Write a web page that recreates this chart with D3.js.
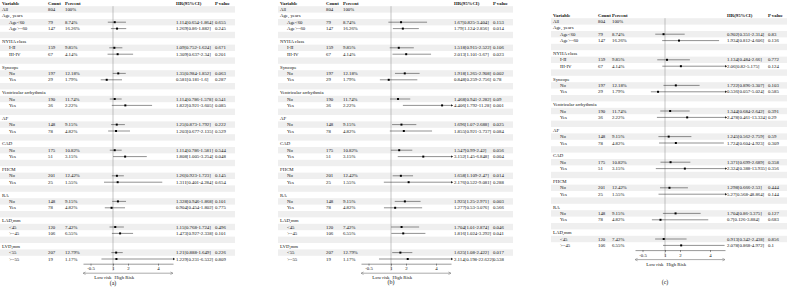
<!DOCTYPE html>
<html lang="en">
<head>
<meta charset="UTF-8">
<title>Forest plots</title>
<script src="https://d3js.org/d3.v7.min.js"></script>
<style>
    body { margin: 0; background: #fff; }
    svg { display: block; }
    text { font-family: "Liberation Serif", "Times New Roman", serif; fill: #111; }
</style>
</head>
<body>
<script>
    const width = 788;
    const height = 288;

    // table content
    const groupNames = ["Age, years", "NYHA class", "Syncope", "Ventricular arrhythmia", "AF",
                        "CAD", "FHCM", "RA", "LAD,mm", "LVD,mm"];
    const subNames = ["Age<60", "Age>=60", "I-II", "III-IV", "No", "Yes", "No", "Yes", "No", "Yes",
                      "No", "Yes", "No", "Yes", "No", "Yes", "<45", ">=45", "<55", ">=55"];
    const counts = [79, 147, 159, 67, 197, 29, 190, 36, 148, 78, 175, 51, 201, 25, 148, 78, 120, 106, 207, 19];
    const percents = ["8.74%", "16.26%", "9.85%", "4.14%", "12.18%", "1.79%", "11.74%", "2.22%", "9.15%", "4.82%",
                      "10.82%", "3.15%", "12.42%", "1.55%", "9.15%", "4.82%", "7.42%", "6.55%", "12.79%", "1.17%"];
    const allCount = 804, allPercent = "100%";
    const tickValues = [-0.5, 1, 2, 4];

    // panel (a)
    const hrA = [1.114, 1.269, 1.09, 1.309, 1.35, 0.581, 1.114, 1.822, 1.25, 1.203,
                 1.114, 1.808, 1.26, 1.311, 1.328, 0.904, 1.15, 1.473, 1.21, 1.229];
    const loA = [0.654, 0.86, 0.752, 0.637, 0.984, 0.181, 0.786, 0.921, 0.873, 0.677,
                 0.786, 1.005, 0.923, 0.401, 0.946, 0.454, 0.768, 0.927, 0.888, 0.231];
    const hiA = [1.864, 1.882, 1.624, 2.34, 1.852, 1.6, 1.578, 3.605, 1.792, 2.135,
                 1.581, 3.254, 1.723, 4.284, 1.868, 1.802, 1.724, 2.338, 1.649, 6.532];
    const pA = ["0.655", "0.245", "0.671", "0.201", "0.063", "0.287", "0.541", "0.085", "0.222", "0.529",
                "0.544", "0.048", "0.145", "0.654", "0.101", "0.775", "0.496", "0.101", "0.226", "0.809"];

    // panel (b)
    const hrB = [1.67, 1.79, 1.518, 2.013, 1.918, 0.848, 1.468, 4.406, 1.696, 1.855,
                 1.547, 3.152, 1.658, 2.176, 1.925, 1.277, 1.704, 1.816, 1.625, 2.114];
    const loB = [0.825, 1.124, 0.915, 1.101, 1.265, 0.259, 0.941, 1.792, 1.07, 0.921,
                 0.99, 1.45, 1.109, 0.522, 1.25, 0.53, 1.01, 1.024, 1.08, 0.198];
    const hiB = [3.404, 2.856, 2.522, 3.67, 2.908, 2.756, 2.282, 11.28, 2.688, 3.737,
                 2.42, 6.848, 2.47, 9.081, 2.971, 3.076, 2.874, 3.292, 2.422, 22.622];
    const pB = ["0.153", "0.014", "0.106", "0.023", "0.002", "0.78", "0.09", "0.001", "0.025", "0.084",
                "0.056", "0.004", "0.014", "0.288", "0.003", "0.566", "0.046", "0.041", "0.017", "0.538"];

    // panel (c) - no LVD rows
    const hrC = [0.902, 1.934, 1.134, 2.06, 1.722, 0.536, 1.344, 2.478, 1.245, 1.724,
                 1.371, 2.324, 1.298, 5.27, 1.704, 0.7, 0.913, 2.078];
    const loC = [0.351, 0.812, 0.484, 0.82, 0.896, 0.057, 0.684, 0.461, 0.562, 0.604,
                 0.699, 0.388, 0.666, 0.568, 0.86, 0.126, 0.342, 0.868];
    const hiC = [2.314, 4.606, 2.66, 5.175, 3.307, 5.024, 2.642, 13.324, 2.759, 4.923,
                 2.689, 13.935, 2.53, 48.864, 3.375, 3.884, 2.438, 4.972];
    const pC = ["0.83", "0.136", "0.772", "0.124", "0.103", "0.585", "0.391", "0.29", "0.59", "0.309",
                "0.358", "0.356", "0.444", "0.144", "0.127", "0.683", "0.856", "0.1"];

    const svg = d3.select("body").append("svg")
        .attr("width", width).attr("height", height);

    const fs = 4.8;
    const pitch = 6.4;

    const panels = [
        {label: "(a)", hr: hrA, lo: loA, hi: hiA, p: pA, nGroups: 10,
         varX: 2, subX: 9, countX: 48, pctX: 65, hrX: 176, pX: 215, refX: 113, headY: 3,
         bandX0: 0, bandX1: 235, labelY: 283},
        {label: "(b)", hr: hrB, lo: loB, hi: hiB, p: pB, nGroups: 10,
         varX: 280, subX: 287, countX: 326, pctX: 343, hrX: 454, pX: 493, refX: 391, headY: 3,
         bandX0: 278, bandX1: 513, labelY: 282},
        {label: "(c)", hr: hrC, lo: loC, hi: hiC, p: pC, nGroups: 9,
         varX: 553, subX: 560, countX: 598, pctX: 612, hrX: 727, pX: 768, refX: 665, headY: 15,
         bandX0: 551, bandX1: 787, labelY: 282}
    ];

    panels.forEach(drawPanel);

    function buildRows(pn) {
        const rows = [{kind: "all"}];
        for (let g = 0; g < pn.nGroups; g++) {
            rows.push({kind: "group", label: groupNames[g]});
            for (let k = 0; k < 2; k++) {
                const i = g * 2 + k;
                rows.push({kind: "sub", label: subNames[i], count: counts[i], pct: percents[i],
                           hr: pn.hr[i], lo: pn.lo[i], hi: pn.hi[i], p: pn.p[i]});
            }
            if (g < pn.nGroups - 1) rows.push({kind: "blank"});
        }
        return rows;
    }

    function drawPanel(pn) {
        const rows = buildRows(pn);
        const g = svg.append("g").attr("class", "panel");
        const y = d3.scaleLinear().domain([0, 1]).range([pn.headY + pitch, pn.headY + 2 * pitch]);
        const x = d3.scaleLinear().domain([-1, 5]).range([pn.refX - 30, pn.refX + 60]);

        // alternating bands
        g.selectAll("rect.band")
            .data(rows.map((r, i) => i).filter(i => i % 2 === 0))
            .enter().append("rect")
            .attr("class", "band")
            .attr("x", pn.bandX0).attr("width", pn.bandX1 - pn.bandX0)
            .attr("y", i => y(i) - pitch / 2).attr("height", pitch)
            .style("fill", "#efefef");

        // header
        const head = g.append("g").style("font-weight", "bold").style("font-size", fs + "px");
        [["Variable", pn.varX], ["Count", pn.countX], ["Percent", pn.pctX],
         ["HR(95%CI)", pn.hrX], ["P value", pn.pX]].forEach(([t, tx]) => {
            head.append("text").attr("x", tx).attr("y", pn.headY).attr("dy", "0.35em").text(t);
        });

        const axisY = y(rows.length - 1) + pitch / 2 + 1.5;

        // reference line at 1
        g.append("line")
            .attr("x1", x(1)).attr("x2", x(1))
            .attr("y1", y(0) - pitch / 2).attr("y2", axisY + 7)
            .style("stroke", "#8a8a8a").style("stroke-width", 0.5);

        const txt = g.append("g").style("font-size", fs + "px");
        rows.forEach((r, i) => {
            const ry = y(i);
            if (r.kind === "all") {
                txt.append("text").attr("x", pn.varX).attr("y", ry).attr("dy", "0.35em").text("All");
                txt.append("text").attr("x", pn.countX).attr("y", ry).attr("dy", "0.35em").text(allCount);
                txt.append("text").attr("x", pn.pctX).attr("y", ry).attr("dy", "0.35em").text(allPercent);
            } else if (r.kind === "group") {
                txt.append("text").attr("x", pn.varX).attr("y", ry).attr("dy", "0.35em").text(r.label);
            } else if (r.kind === "sub") {
                txt.append("text").attr("x", pn.subX).attr("y", ry).attr("dy", "0.35em").text(r.label);
                txt.append("text").attr("x", pn.countX).attr("y", ry).attr("dy", "0.35em").text(r.count);
                txt.append("text").attr("x", pn.pctX).attr("y", ry).attr("dy", "0.35em").text(r.pct);
                txt.append("text").attr("x", pn.hrX).attr("y", ry).attr("dy", "0.35em")
                    .text(`${r.hr}[${r.lo}-${r.hi}]`);
                txt.append("text").attr("x", pn.pX).attr("y", ry).attr("dy", "0.35em").text(r.p);
            }
        });

        // CI lines and points
        const [dMin, dMax] = x.domain();
        const ci = g.append("g");
        rows.forEach((r, i) => {
            if (r.kind !== "sub") return;
            const ry = y(i);
            const lo = Math.max(r.lo, dMin), hi = Math.min(r.hi, dMax);
            ci.append("line")
                .attr("x1", x(lo)).attr("x2", x(hi)).attr("y1", ry).attr("y2", ry)
                .style("stroke", "#222").style("stroke-width", 0.5);
            if (r.hi > dMax) {
                ci.append("path")
                    .attr("d", `M${x(dMax)},${ry - 1.2}L${x(dMax) + 2.2},${ry}L${x(dMax)},${ry + 1.2}Z`)
                    .style("fill", "#222");
            }
            if (r.lo < dMin) {
                ci.append("path")
                    .attr("d", `M${x(dMin)},${ry - 1.2}L${x(dMin) - 2.2},${ry}L${x(dMin)},${ry + 1.2}Z`)
                    .style("fill", "#222");
            }
            if (r.hr >= dMin && r.hr <= dMax) {
                ci.append("rect")
                    .attr("x", x(r.hr) - 1).attr("y", ry - 1)
                    .attr("width", 2).attr("height", 2)
                    .style("fill", "#000");
            }
        });

        // x axis
        const axis = g.append("g")
            .attr("transform", `translate(0,${axisY})`)
            .call(d3.axisBottom(x).tickValues(tickValues).tickSize(2).tickSizeOuter(0)
                  .tickFormat(d => String(d)));
        axis.select(".domain").style("stroke", "#333").style("stroke-width", 0.5);
        axis.selectAll(".tick line").style("stroke", "#333").style("stroke-width", 0.5);
        axis.selectAll(".tick text")
            .attr("y", 3).attr("dy", "0.71em")
            .style("font-family", "'Liberation Serif', serif")
            .style("font-size", fs + "px").style("fill", "#111");

        // low / high risk arrow
        const ay = axisY + 9.5;
        g.append("line")
            .attr("x1", x(dMin) + 1.5).attr("x2", x(dMax) - 1.5).attr("y1", ay).attr("y2", ay)
            .style("stroke", "#555").style("stroke-width", 0.5);
        g.append("path")
            .attr("d", `M${x(dMin) + 2.5},${ay - 1.2}L${x(dMin)},${ay}L${x(dMin) + 2.5},${ay + 1.2}` +
                       `M${x(dMax) - 2.5},${ay - 1.2}L${x(dMax)},${ay}L${x(dMax) - 2.5},${ay + 1.2}`)
            .style("fill", "none").style("stroke", "#555").style("stroke-width", 0.5);
        g.append("text").attr("x", x(1) - 1.5).attr("y", ay + 4.5).attr("dy", "0.35em")
            .attr("text-anchor", "end").style("font-size", fs + "px").text("Low risk");
        g.append("text").attr("x", x(1) + 1.5).attr("y", ay + 4.5).attr("dy", "0.35em")
            .style("font-size", fs + "px").text("High Risk");

        // panel label
        g.append("text").attr("x", x(1)).attr("y", pn.labelY).attr("dy", "0.35em")
            .attr("text-anchor", "middle").style("font-size", "6px").text(pn.label);
    }
</script>
</body>
</html>
